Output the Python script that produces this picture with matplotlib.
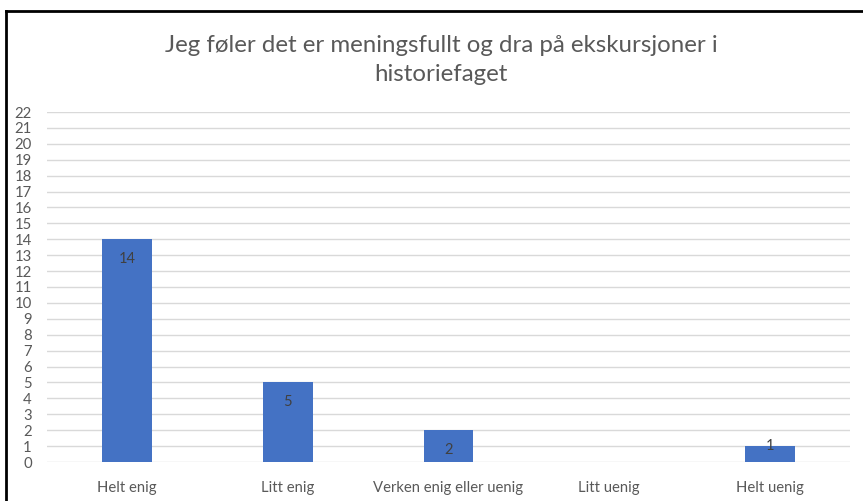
import matplotlib
matplotlib.use("Agg")

import matplotlib.pyplot as plt
from matplotlib.lines import Line2D

# Data
categories = ["Helt enig", "Litt enig", "Verken enig eller uenig", "Litt uenig", "Helt uenig"]
values = [14, 5, 2, 0, 1]
title = "Jeg føler det er meningsfullt og dra på ekskursjoner i\nhistoriefaget"

plt.rcParams["font.family"] = ["Lato", "DejaVu Sans"]

fig = plt.figure(figsize=(8.63, 5.01), dpi=100)
ax = fig.add_axes([47 / 863, 1 - 462 / 501, (850 - 47) / 863, (462 - 112) / 501])

x = range(len(categories))
ax.bar(x, values, width=0.31, color="#4472C4", zorder=3)

for i, v in enumerate(values):
    if v == 0:
        continue
    off = 14 if v >= 2 else 0
    ax.annotate(str(v), (i, v), xytext=(0, -off), textcoords="offset points",
                ha="center", va="center", fontsize=10.5, color="#404040", zorder=4)

ax.set_xlim(-0.5, len(categories) - 0.5)
ax.set_ylim(0, 22)
ax.set_yticks(range(0, 23))
ax.set_xticks(list(x))
ax.set_xticklabels(categories)
ax.tick_params(axis="both", length=0, labelsize=10.7, colors="#595959")
ax.tick_params(axis="x", pad=14)
ax.tick_params(axis="y", pad=11)
ax.grid(axis="y", color="#D9D9D9", linewidth=1.0, zorder=0)
for s in ax.spines.values():
    s.set_visible(False)

fig.text(441 / 863, 1 - 60 / 501, title, ha="center", va="center",
         fontsize=17.3, color="#595959", linespacing=1.45)

# frame lines (left and top)
fig.add_artist(Line2D([6 / 863, 6 / 863], [0, 1 - 11 / 501], color="black", linewidth=2))
fig.add_artist(Line2D([6 / 863, 1], [1 - 11 / 501, 1 - 11 / 501], color="black", linewidth=2))

fig.savefig("out.png", dpi=100)
